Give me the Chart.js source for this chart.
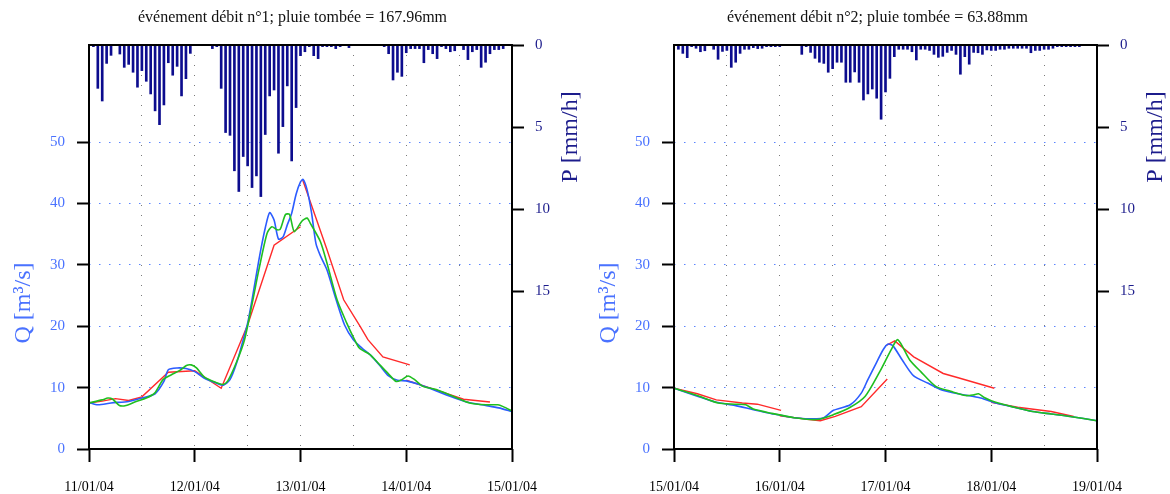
<!DOCTYPE html>
<html>
<head>
<meta charset="utf-8">
<title>Événements débit</title>
<script src="https://cdn.jsdelivr.net/npm/chart.js@4.4.1/dist/chart.umd.min.js"></script>
<style>
  html, body { margin: 0; padding: 0; background: #fff; }
  .row { display: flex; width: 1170px; height: 494px; }
  .panel { width: 585px; height: 494px; }
</style>
</head>
<body>
<div class="row">
  <div class="panel"><canvas id="event1" width="585" height="494"></canvas></div>
  <div class="panel"><canvas id="event2" width="585" height="494"></canvas></div>
</div>
<script>
// ======================
// Data (hours since the first day, Q in m3/s, P in mm/h)
// ======================

const Q_TICKS = [0, 10, 20, 30, 40, 50];
const P_TICKS = [0, 5, 10, 15];
const HOUR_TICKS = [0, 12, 24, 36, 48, 60, 72, 84, 96];

// event 1
const title1 = 'événement débit n°1; pluie tombée = 167.96mm';
const days1 = ['11/01/04', '12/01/04', '13/01/04', '14/01/04', '15/01/04'];
const rain1 = [
  0.1, 2.64, 3.41, 1.12, 0.63, 0, 0.55, 1.36, 1.18, 1.66, 2.57, 1.56,
  2.21, 2.98, 4.01, 4.85, 3.65, 1.08, 1.84, 1.30, 3.10, 2.05, 0.51, 0,
  0, 0, 0, 0.22, 0.1, 2.64, 5.33, 5.50, 7.66, 8.92, 6.79, 7.36,
  8.68, 7.97, 9.23, 5.45, 3.10, 2.74, 6.59, 4.97, 2.49, 7.06, 3.81, 0.65,
  0.41, 0.1, 0.65, 0.83, 0.1, 0.1, 0.1, 0.22, 0.1, 0, 0.16, 0,
  0, 0, 0, 0, 0, 0, 0.1, 0.53, 2.13, 1.66, 1.91, 0.47,
  0.22, 0.22, 0.22, 1.08, 0.28, 0.53, 0.83, 0.1, 0.22, 0.41, 0.35, 0,
  0.28, 0.89, 0.41, 0.28, 1.36, 1.05, 0.53, 0.28, 0.28, 0.22, 0, 0
];
const obs1T = [0, 2, 5, 9, 12, 15, 17, 18, 20, 22, 24, 26, 29, 30.5, 32, 33.5, 35, 36, 37, 38, 39, 40,
  41, 42, 43, 44, 45, 46, 47, 48, 48.6, 49.5, 50.5, 51.5, 52.5, 54, 56, 58, 60, 62, 64, 66, 68, 70,
  72, 75, 79, 83, 86, 90, 93, 96];
const obs1Q = [7.6, 7.2, 7.5, 7.75, 8.3, 9.0, 11.0, 12.9, 13.2, 13.1, 12.6, 11.6, 10.7, 10.4, 11.3, 14.0,
  17.8, 20.5, 24.3, 28.5, 32.5, 36, 38.5, 37.3, 34.2, 34.5, 36.5, 38.4, 41.5, 43.5, 43.9, 42.2, 38.5,
  33.5, 31.5, 29.2, 24.5, 20.2, 17.8, 16.4, 15.2, 13.6, 11.9, 11.2, 11.1, 10.5, 9.4, 8.3, 7.6, 7.1, 6.7, 6.1];
const sim1T = [0, 3, 4.3, 5.4, 6.9, 8.4, 10.7, 13, 14.9, 16.8, 18.7, 20.6, 22.1, 23.2, 24.4, 26.2, 28.9,
  30.4, 31.5, 33.4, 35.3, 37.2, 38.5, 40.4, 41.5, 42.7, 43.4, 44.6, 45.5, 46.6, 48.3, 49.5, 50.2, 52.5,
  54, 56.3, 58.5, 60, 61.4, 63.7, 66, 68, 69.7, 71, 72.4, 73.9, 75.8, 78.8, 82.6, 86.4, 90.2, 92.8, 94, 96];
const sim1Q = [7.5, 8.0, 8.3, 8.1, 7.1, 7.1, 7.75, 8.3, 9.1, 11.3, 12.1, 12.8, 13.6, 13.7, 13.2, 11.7, 10.8,
  10.5, 11.1, 14.0, 17.8, 24.3, 29, 35.1, 36.2, 35.7, 35.8, 38.2, 38.2, 35.4, 37.1, 37.6, 36.8, 33.8,
  30.3, 24.3, 20.5, 18.2, 16.4, 15.4, 13.7, 12.2, 11.0, 11.3, 11.9, 11.3, 10.2, 9.7, 8.6, 7.5, 7.2, 7.2, 6.9, 6.2];
const fc1T = [
  [0, 3, 6, 9, 12, 18, 24, 30, 36, 42, 48],
  [48.5, 54, 57.8, 61.5, 63.3, 66.7, 72.8],
  [72, 78, 85, 91]
];
const fc1Q = [
  [7.5, 7.8, 8.2, 7.9, 8.5, 12.5, 12.75, 9.9, 20.2, 33.2, 36.2],
  [43.8, 32.5, 24.3, 20, 17.8, 15.0, 13.7],
  [11.2, 9.8, 8.1, 7.65]
];

// event 2
const title2 = 'événement débit n°2; pluie tombée = 63.88mm';
const days2 = ['15/01/04', '16/01/04', '17/01/04', '18/01/04', '19/01/04'];
const rain2 = [
  0.26, 0.51, 0.77, 0.1, 0.2, 0.41, 0.35, 0, 0.26, 0.87, 0.39, 0.33,
  1.36, 1.05, 0.51, 0.26, 0.26, 0.16, 0.22, 0.2, 0.1, 0.1, 0.1, 0.1,
  0, 0, 0, 0, 0.57, 0.1, 0.45, 0.81, 1.05, 1.12, 1.66, 1.44,
  1.05, 1.05, 2.27, 2.27, 1.64, 2.27, 3.35, 2.98, 2.68, 3.24, 4.52, 2.86,
  2.03, 0.71, 0.26, 0.26, 0.26, 0.41, 0.91, 0.26, 0.26, 0.33, 0.57, 0.75,
  0.69, 0.45, 0.33, 0.57, 1.78, 0.71, 1.17, 0.45, 0.47, 0.57, 0.3, 0.33,
  0.33, 0.26, 0.26, 0.2, 0.2, 0.2, 0.2, 0.2, 0.47, 0.33, 0.33, 0.26,
  0.26, 0.2, 0.1, 0.1, 0.1, 0.1, 0.1, 0.1, 0, 0, 0, 0
];
const obs2T = [0, 5.3, 9.6, 13.8, 18, 22.2, 27.3, 32.4, 34, 36.2, 40, 42.5, 44, 45.9, 47.5, 48.6, 49.7,
  51.8, 54.4, 57.7, 60.3, 64.5, 69.6, 73, 77.2, 81.4, 85.6, 89.9, 96];
const obs2Q = [9.9, 8.6, 7.6, 7.1, 6.4, 5.75, 5.1, 4.9, 5.1, 6.3, 7.2, 9.1, 11.3, 14.0, 16.2, 17.1, 16.8,
  14.5, 11.9, 10.7, 9.75, 9.0, 8.3, 7.5, 6.8, 6.1, 5.7, 5.3, 4.6];
const sim2T = [0, 5.3, 10, 13.8, 16.3, 18, 22.2, 27.3, 32.4, 36.2, 40, 43.4, 46.7, 49.3, 50.8, 53.5, 56,
  59.4, 62.8, 66.2, 67.9, 69.1, 70.4, 73, 77.2, 81.4, 85.6, 89.9, 96];
const sim2Q = [9.9, 8.7, 7.5, 7.3, 7.2, 6.5, 5.8, 5.1, 4.8, 5.6, 6.8, 8.6, 12.6, 16.2, 17.8, 14.5, 12.6,
  10.2, 9.4, 8.7, 8.8, 9.0, 8.4, 7.6, 6.8, 6.1, 5.7, 5.3, 4.6];
const fc2T = [
  [0, 5.3, 9.6, 15.5, 18.9, 24.3],
  [24, 30.7, 33.2, 36.6, 42.5, 48.4],
  [48.3, 50.1, 54.4, 61.1, 64.5, 72.7],
  [72, 78, 85.6, 90.7]
];
const fc2Q = [
  [9.9, 9.0, 8.0, 7.5, 7.3, 6.3],
  [5.4, 4.8, 4.6, 5.3, 6.9, 11.4],
  [16.9, 17.6, 15.0, 12.3, 11.6, 9.9],
  [7.6, 6.8, 6.1, 5.3]
];

// ======================
// Styling
// ======================

const SERIF = "'Liberation Serif', 'Times New Roman', serif";
const COLORS = {
  obs: '#2b5cff',
  sim: '#1fbf1f',
  fc: '#ff2a2a',
  rain: '#0c0c8e',
  qText: '#4a72ff',
  pText: '#1c1c8c',
  qGrid: '#5a84ff',
  xGrid: '#7a7a7a'
};

// ======================
// Plugins
// ======================

const framePlugin = {
  id: 'frame',
  afterDatasetsDraw(chart) {
    const { ctx, chartArea: a } = chart;
    ctx.save();
    ctx.strokeStyle = '#000';
    ctx.lineWidth = 2;
    ctx.strokeRect(a.left, a.top, a.right - a.left, a.bottom - a.top);
    ctx.restore();
  }
};

function drawRotated(ctx, text, x, y, color) {
  ctx.save();
  ctx.translate(x, y);
  ctx.rotate(-Math.PI / 2);
  ctx.font = `24px ${SERIF}`;
  ctx.fillStyle = color;
  ctx.textAlign = 'center';
  ctx.textBaseline = 'middle';
  ctx.fillText(text, 0, 0);
  ctx.restore();
}

const axisTitlePlugin = {
  id: 'axisTitles',
  afterDraw(chart) {
    drawRotated(chart.ctx, 'Q [m³/s]', 24, 303, COLORS.qText);
    drawRotated(chart.ctx, 'P [mm/h]', 571, 137, COLORS.pText);
  }
};

// ======================
// Chart building
// ======================

function pts(t, q) {
  return t.map((x, i) => ({ x: x, y: q[i] }));
}

function lineSet(data, color, order) {
  return {
    type: 'line',
    data: data,
    yAxisID: 'yQ',
    borderColor: color,
    borderWidth: 1.6,
    pointRadius: 0,
    tension: 0.25,
    order: order
  };
}

function buildEvent(canvasId, title, days, rain, obsT, obsQ, simT, simQ, fcT, fcQ) {
  const datasets = [
    lineSet(pts(simT, simQ), COLORS.sim, 1),
    lineSet(pts(obsT, obsQ), COLORS.obs, 2)
  ];
  fcT.forEach((t, i) => {
    const ds = lineSet(pts(t, fcQ[i]), COLORS.fc, 3);
    ds.tension = 0;
    ds.borderWidth = 1.4;
    datasets.push(ds);
  });
  datasets.push({
    type: 'bar',
    data: rain.map((v, i) => ({ x: i + 1, y: v })),
    yAxisID: 'yP',
    backgroundColor: COLORS.rain,
    barThickness: 2,
    order: 4
  });

  new Chart(document.getElementById(canvasId), {
    type: 'line',
    data: { datasets: datasets },
    options: {
      responsive: false,
      animation: false,
      devicePixelRatio: 1,
      layout: { padding: 0 },
      plugins: {
        legend: { display: false },
        tooltip: { enabled: false },
        title: {
          display: true,
          text: title,
          color: '#111',
          font: { family: SERIF, size: 16, weight: 'normal' },
          padding: { top: 8, bottom: 17.8 }
        }
      },
      scales: {
        x: {
          type: 'linear',
          min: 0,
          max: 96,
          offset: false,
          afterBuildTicks: s => { s.ticks = HOUR_TICKS.map(v => ({ value: v })); },
          afterFit: s => { s.height = 45; },
          border: { display: false, dash: [1, 9] },
          grid: {
            offset: false,
            color: COLORS.xGrid,
            lineWidth: 1,
            tickLength: 13,
            tickWidth: 2,
            tickColor: c => (c.tick && c.tick.value % 24 === 0) ? '#000' : 'rgba(0,0,0,0)'
          },
          ticks: {
            autoSkip: false,
            maxRotation: 0,
            padding: 17,
            color: '#000',
            font: { family: SERIF, size: 14 },
            callback: v => (v % 24 === 0) ? days[v / 24] : ''
          }
        },
        yQ: {
          type: 'linear',
          position: 'left',
          min: 0,
          max: 65.8,
          afterBuildTicks: s => { s.ticks = Q_TICKS.map(v => ({ value: v })); },
          afterFit: s => { s.width = 89; },
          border: { display: false, dash: [1.5, 8.5] },
          grid: {
            color: c => (c.tick && c.tick.value === 0) ? 'rgba(0,0,0,0)' : COLORS.qGrid,
            lineWidth: 1,
            tickLength: 12,
            tickWidth: 2,
            tickColor: '#000'
          },
          ticks: {
            padding: 12,
            color: COLORS.qText,
            font: { family: SERIF, size: 15 }
          }
        },
        yP: {
          type: 'linear',
          position: 'right',
          min: 0,
          max: 24.6,
          reverse: true,
          afterBuildTicks: s => { s.ticks = P_TICKS.map(v => ({ value: v })); },
          afterFit: s => { s.width = 73; },
          border: { display: false },
          grid: {
            drawOnChartArea: false,
            tickLength: 12,
            tickWidth: 2,
            tickColor: '#000'
          },
          ticks: {
            padding: 11,
            color: COLORS.pText,
            font: { family: SERIF, size: 15 }
          }
        }
      }
    },
    plugins: [framePlugin, axisTitlePlugin]
  });
}

buildEvent('event1', title1, days1, rain1, obs1T, obs1Q, sim1T, sim1Q, fc1T, fc1Q);
buildEvent('event2', title2, days2, rain2, obs2T, obs2Q, sim2T, sim2Q, fc2T, fc2Q);
</script>
</body>
</html>
